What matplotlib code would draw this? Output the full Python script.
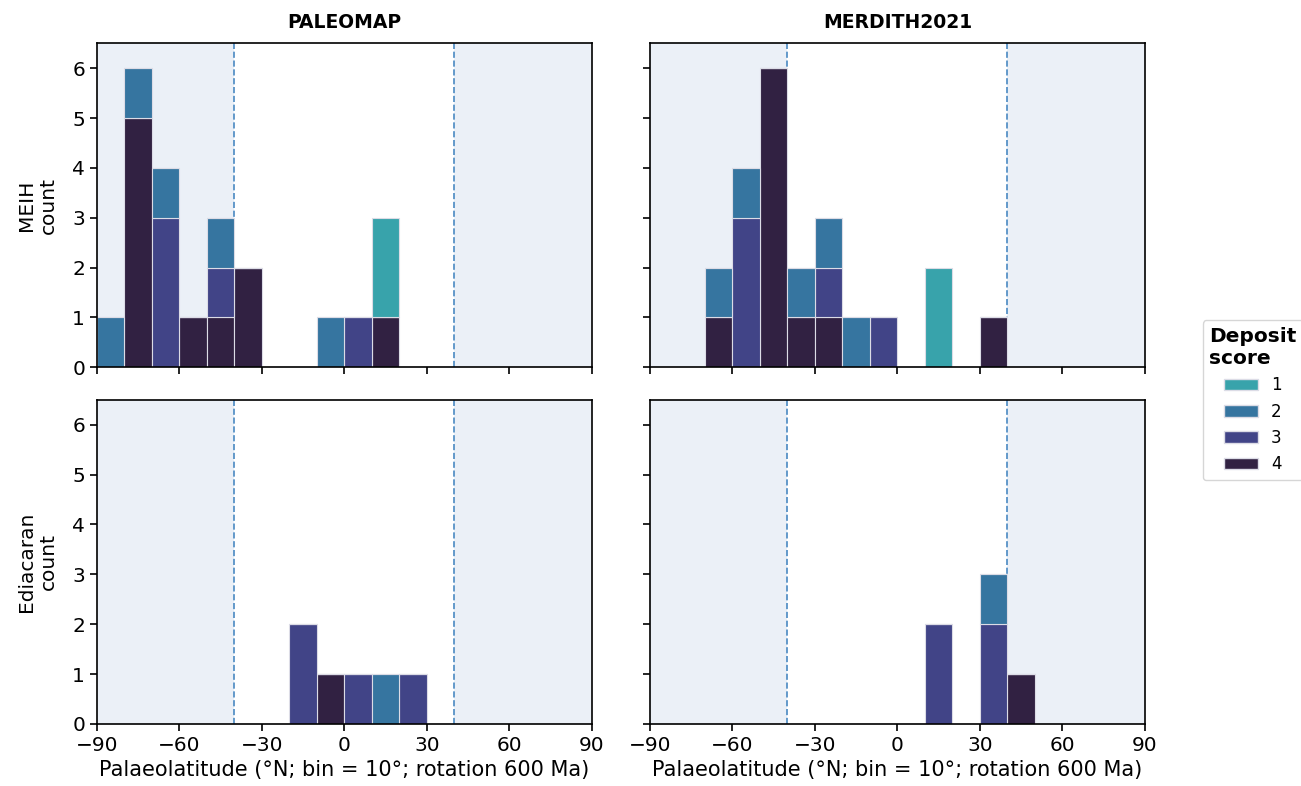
import numpy as np
import matplotlib
matplotlib.use("Agg")
import matplotlib.pyplot as plt
from matplotlib.patches import Patch

# bin left edges (10 degree bins)
bins = np.arange(-90, 90, 10)

# counts per bin, per deposit score (bin left edge -> count)
pm_meih = {
    1: {10: 2},
    2: {-90: 1, -80: 1, -70: 1, -50: 1, -10: 1},
    3: {-70: 3, -50: 1, 0: 1},
    4: {-80: 5, -60: 1, -50: 1, -40: 2, 10: 1},
}
md_meih = {
    1: {10: 2},
    2: {-70: 1, -60: 1, -40: 1, -30: 1, -20: 1},
    3: {-60: 3, -30: 1, -10: 1},
    4: {-70: 1, -50: 6, -40: 1, -30: 1, 30: 1},
}
pm_edi = {
    1: {},
    2: {10: 1},
    3: {-20: 2, 0: 1, 20: 1},
    4: {-10: 1},
}
md_edi = {
    1: {},
    2: {30: 1},
    3: {10: 2, 30: 2},
    4: {40: 1},
}

scores = [1, 2, 3, 4]
colors = {1: "#38a3ab", 2: "#3675a0", 3: "#414487", 4: "#312142"}
shade = "#ebf0f7"
line_col = "#4a89c2"

models = ["PALEOMAP", "MERDITH2021"]
periods = ["MEIH", "Ediacaran"]
data = [[pm_meih, md_meih], [pm_edi, md_edi]]

plt.rcParams["axes.linewidth"] = 1.2
plt.rcParams["xtick.major.width"] = 1.2
plt.rcParams["ytick.major.width"] = 1.2

fig, axes = plt.subplots(2, 2, figsize=(13.01, 7.86), dpi=100, sharex=True, sharey=True)
fig.subplots_adjust(left=0.0745, right=0.88, top=0.945, bottom=0.079, wspace=0.117, hspace=0.1)

for r in range(2):
    for c in range(2):
        ax = axes[r, c]
        ax.axvspan(-90, -40, color=shade, zorder=0, lw=0)
        ax.axvspan(40, 90, color=shade, zorder=0, lw=0)
        ax.axvline(-40, color=line_col, ls="--", lw=1.2, zorder=1)
        ax.axvline(40, color=line_col, ls="--", lw=1.2, zorder=1)
        d = data[r][c]
        bottom = np.zeros(len(bins))
        for s in [4, 3, 2, 1]:
            h = np.array([d[s].get(b, 0) for b in bins], dtype=float)
            ax.bar(bins, h, width=10, align="edge", bottom=bottom,
                   color=colors[s], edgecolor="#dcdce6", linewidth=0.8, zorder=2)
            bottom += h
        ax.set_xlim(-90, 90)
        ax.set_ylim(0, 6.5)
        ax.set_xticks(np.arange(-90, 91, 30))
        ax.set_yticks(range(7))
        ax.tick_params(labelsize=14.5, length=5)
        if r == 0:
            ax.set_title(models[c], fontsize=13.5, fontweight="bold", pad=11)
        if r == 1:
            ax.set_xlabel("Palaeolatitude (°N; bin = 10°; rotation 600 Ma)", fontsize=15)
        if c == 0:
            ax.set_ylabel(periods[r] + "\ncount", fontsize=14.5, labelpad=10)
        ax.tick_params(labelbottom=(r == 1), labelleft=(c == 0))

handles = [Patch(facecolor=colors[s], edgecolor="#dcdce6", label=str(s)) for s in scores]
leg = fig.legend(handles=handles, title="Deposit\nscore", loc="center left",
                 bbox_to_anchor=(0.918, 0.491), fontsize=12, frameon=True,
                 title_fontproperties={"weight": "bold", "size": 14.5})

fig.savefig("out.png", dpi=100)
